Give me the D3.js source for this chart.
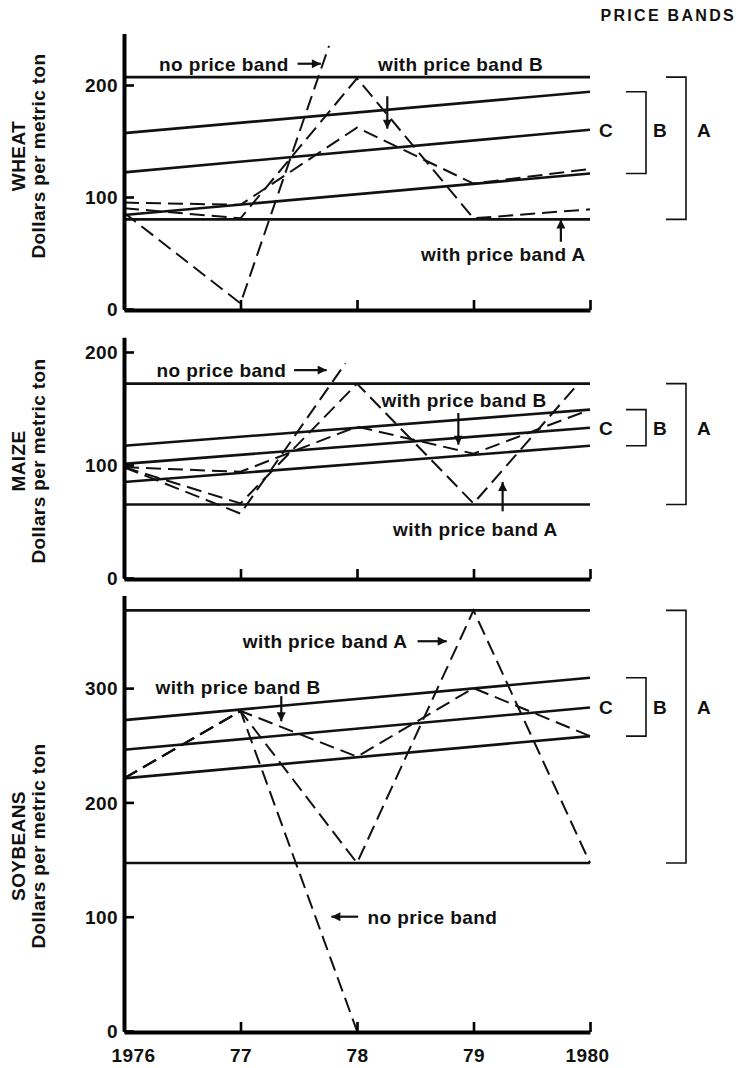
<!DOCTYPE html>
<html>
<head>
<meta charset="utf-8" />
<style>
body {
	margin:0;
	background:#fff;
}
svg text {
	font-family: "Liberation Sans", Arial, Helvetica, sans-serif;
	font-weight: bold;
	font-size: 19px;
	letter-spacing: .4px;
	fill:#111;
}
.band {
	fill:none;
	stroke:#111;
	stroke-width:2.6;
}
.trace {
	fill:none;
	stroke:#111;
	stroke-width:2;
	stroke-dasharray:15,7;
}
.bracket {
	fill:none;
	stroke:#111;
	stroke-width:1.6;
}
.arrow {
	stroke:#111;
	stroke-width:2.2;
}
</style>
</head>
<body>
<svg id="plansza" width="739" height="1068" xmlns="http://www.w3.org/2000/svg"></svg>
<script src="https://cdn.jsdelivr.net/npm/d3@7"></script>
<script>

var years = [1976, 1977, 1978, 1979, 1980];
var yearLabels = ["1976", "77", "78", "79", "1980"];
var bandYears = [1976, 1980];

// WHEAT
var wheatTicks = [0, 100, 200];
var wheatAHigh = [207, 207];
var wheatBHigh = [157, 194];
var wheatC = [122, 160];
var wheatBLow = [84, 121];
var wheatALow = [80, 80];
var wheatWithA = [[1976, 90], [1977, 81], [1978, 206], [1979, 81], [1980, 89]];
var wheatWithB = [[1976, 95], [1977, 93], [1978, 162], [1979, 112], [1980, 125]];
var wheatNoBand = [[1976, 86], [1977, 5], [1977.76, 235]];
var wheatNotes = [["no price band", 1976.3, 219], ["with price band B", 1978.18, 219], ["with price band A", 1978.55, 49]];
var wheatArrows = [[1977.49, 219, 1977.69, 219], [1978.26, 190, 1978.26, 161], [1979.75, 60, 1979.75, 80]];

// MAIZE
var maizeTicks = [0, 100, 200];
var maizeAHigh = [172, 172];
var maizeBHigh = [117, 149];
var maizeC = [101, 133];
var maizeBLow = [85, 117];
var maizeALow = [65, 65];
var maizeWithA = [[1976, 98], [1977, 66], [1978, 172], [1979, 66], [1979.9, 172]];
var maizeWithB = [[1976, 98], [1977, 94], [1978, 134], [1979, 110], [1980, 149]];
var maizeNoBand = [[1976, 98], [1977, 57], [1977.9, 190]];
var maizeNotes = [["no price band", 1976.28, 184], ["with price band B", 1978.21, 157], ["with price band A", 1978.31, 43]];
var maizeArrows = [[1977.46, 184, 1977.74, 184], [1978.87, 146, 1978.87, 118], [1979.25, 59, 1979.25, 85]];

// SOYBEANS
var soyTicks = [0, 100, 200, 300];
var soyAHigh = [368, 368];
var soyBHigh = [272, 309];
var soyC = [246, 283];
var soyBLow = [221, 258];
var soyALow = [147, 147];
var soyWithA = [[1976, 221], [1977, 280], [1978, 147], [1979, 368], [1980, 147]];
var soyWithB = [[1976, 221], [1977, 280], [1978, 240], [1979, 300], [1980, 258]];
var soyNoBand = [[1976, 221], [1977, 280], [1978, 0]];
var soyNotes = [["with price band A", 1977.02, 341], ["with price band B", 1976.27, 301], ["no price band", 1978.09, 100]];
var soyArrows = [[1978.52, 341, 1978.77, 341], [1977.35, 293, 1977.35, 271], [1978.01, 100, 1977.78, 100]];

// layout of the three stacked panels (pixel placement only)
var panels = [
	{name:"WHEAT", ticks:wheatTicks, top:246, y0:309, k:1.12, titleY:156,
	 bands:[wheatAHigh, wheatBHigh, wheatC, wheatBLow, wheatALow], traces:[wheatWithA, wheatWithB, wheatNoBand],
	 notes:wheatNotes, arrows:wheatArrows},
	{name:"MAIZE", ticks:maizeTicks, top:213, y0:578, k:1.13, titleY:461,
	 bands:[maizeAHigh, maizeBHigh, maizeC, maizeBLow, maizeALow], traces:[maizeWithA, maizeWithB, maizeNoBand],
	 notes:maizeNotes, arrows:maizeArrows},
	{name:"SOYBEANS", ticks:soyTicks, top:381, y0:1031, k:1.143, titleY:846,
	 bands:[soyAHigh, soyBHigh, soyC, soyBLow, soyALow], traces:[soyWithA, soyWithB, soyNoBand],
	 notes:soyNotes, arrows:soyArrows}
];

var rys = d3.select("#plansza");
var x = d3.scaleLinear().domain([1976, 1980]).range([124, 590]);

rys.append("defs").append("marker")
	.attr("id", "grot")
	.attr("viewBox", "0 0 10 10")
	.attr("refX", 10).attr("refY", 5)
	.attr("markerUnits", "userSpaceOnUse")
	.attr("markerWidth", 10).attr("markerHeight", 9)
	.attr("orient", "auto")
	.append("path").attr("d", "M0,0 L10,5 L0,10 z").attr("fill", "#111");

rys.append("text")
	.attr("x", 736).attr("y", 21)
	.attr("text-anchor", "end")
	.style("font-size", "16px")
	.style("letter-spacing", "2.3px")
	.text("PRICE BANDS");

panels.forEach(function(p, i) {
	var y = d3.scaleLinear().domain([0, p.top]).range([p.y0, p.y0 - p.top * p.k]);
	var line = d3.line().x(function(d) { return x(d[0]); }).y(function(d) { return y(d[1]); });
	var g = rys.append("g");

	// solid band limits
	p.bands.forEach(function(vals) {
		g.append("path").attr("class", "band")
			.attr("d", line(bandYears.map(function(yr, j) { return [yr, vals[j]]; })));
	});

	// dashed price paths
	p.traces.forEach(function(s) {
		g.append("path").attr("class", "trace").attr("d", line(s));
	});

	// y axis
	var gy = g.append("g").attr("transform", "translate(" + x(1976) + ",0)")
		.call(d3.axisLeft(y).tickValues(p.ticks).tickSizeInner(-10).tickSizeOuter(0).tickPadding(6));
	gy.select(".domain").attr("stroke-width", 4);
	gy.selectAll(".tick line").attr("stroke-width", 2.6);
	gy.selectAll(".tick text").attr("dy", "0.36em");

	// x axis
	var gx = g.append("g").attr("transform", "translate(0," + (p.y0 + 1) + ")")
		.call(d3.axisBottom(x).tickValues(years).tickSizeInner(-10).tickSizeOuter(0).tickPadding(17)
			.tickFormat(function(d, j) { return i == 2 ? yearLabels[j] : ""; }));
	gx.select(".domain").attr("stroke-width", 4);
	gx.selectAll(".tick line").attr("stroke-width", 2.6);
	gx.selectAll(".tick text").attr("dx", function(d) { return d == 1976 ? 9 : (d == 1980 ? -3 : 0); });

	// axis titles
	g.append("text").attr("transform", "translate(25," + p.titleY + ") rotate(-90)")
		.attr("text-anchor", "middle").text(p.name);
	g.append("text").attr("transform", "translate(45," + p.titleY + ") rotate(-90)")
		.attr("text-anchor", "middle").text("Dollars per metric ton");

	// notes and arrows
	p.notes.forEach(function(n) {
		g.append("text").attr("x", x(n[1])).attr("y", y(n[2])).attr("dy", "0.36em").text(n[0]);
	});
	p.arrows.forEach(function(a) {
		g.append("line").attr("class", "arrow")
			.attr("x1", x(a[0])).attr("y1", y(a[1]))
			.attr("x2", x(a[2])).attr("y2", y(a[3]))
			.attr("marker-end", "url(#grot)");
	});

	// price band brackets on the right
	var c = p.bands[2][1], aHi = p.bands[0][1], bHi = p.bands[1][1], bLo = p.bands[3][1], aLo = p.bands[4][1];
	g.append("text").attr("x", x(1980) + 9).attr("y", y(c)).attr("dy", "0.36em").text("C");
	g.append("path").attr("class", "bracket")
		.attr("d", "M626," + y(bHi) + "H646V" + y(bLo) + "H626");
	g.append("path").attr("class", "bracket")
		.attr("d", "M666," + y(aHi) + "H686V" + y(aLo) + "H666");
	g.append("text").attr("x", 660).attr("y", y(c)).attr("dy", "0.36em").attr("text-anchor", "middle").text("B");
	g.append("text").attr("x", 704).attr("y", y(c)).attr("dy", "0.36em").attr("text-anchor", "middle").text("A");
});

</script>
</body>
</html>
